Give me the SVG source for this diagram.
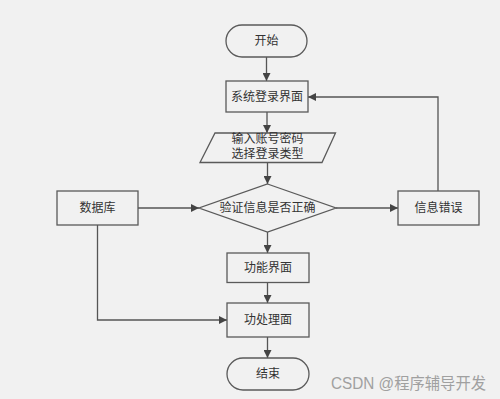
<svg xmlns="http://www.w3.org/2000/svg" width="500" height="399" viewBox="0 0 500 399">
<style>
.shape{fill:#f1f1f1;stroke:#5a5a5a;stroke-width:1.3}
.lbl{font-family:"Liberation Serif","Noto Sans CJK SC",serif;font-size:12px;fill:#333;text-anchor:middle;dominant-baseline:central}
.conn{fill:none;stroke:#555;stroke-width:1.3}
.wm{font-family:"Liberation Sans","Noto Sans CJK SC",sans-serif;font-size:16px;fill:#a0a0a0}
</style>
<defs>
<marker id="arr" viewBox="0 0 10 10" refX="10" refY="5" markerWidth="8" markerHeight="8" markerUnits="userSpaceOnUse" orient="auto">
<path d="M0,0 L10,5 L0,10 Z" fill="#444"/>
</marker>
</defs>
<rect width="500" height="399" fill="#f1f1f1"/>
<g id="connectors">
<path class="conn" d="M266.5,57 V81" marker-end="url(#arr)"/>
<path class="conn" d="M267,112 V133" marker-end="url(#arr)"/>
<path class="conn" d="M267.5,162.5 V184" marker-end="url(#arr)"/>
<path class="conn" d="M138,208 H199" marker-end="url(#arr)"/>
<path class="conn" d="M336,208 H398" marker-end="url(#arr)"/>
<path class="conn" d="M438,191 V97 H308" marker-end="url(#arr)"/>
<path class="conn" d="M267.5,232 V253" marker-end="url(#arr)"/>
<path class="conn" d="M267.5,282.5 V303" marker-end="url(#arr)"/>
<path class="conn" d="M97.5,225 V320 H227" marker-end="url(#arr)"/>
<path class="conn" d="M267.5,337 V358" marker-end="url(#arr)"/>
</g>
<g id="start">
<rect class="shape" x="226" y="25" width="81" height="32" rx="16" ry="16"/>
<text class="lbl" x="266.5" y="41">开始</text>
</g>
<g id="login">
<rect class="shape" x="226" y="81" width="82" height="31"/>
<text class="lbl" x="267" y="96.5">系统登录界面</text>
</g>
<g id="input">
<polygon class="shape" points="215,133 335.5,133 322,162.5 200,162.5"/>
<text class="lbl" x="267.5" y="139">输入账号密码</text>
<text class="lbl" x="267.5" y="154">选择登录类型</text>
</g>
<g id="verify">
<polygon class="shape" points="267.5,184 336,208 267.5,232 199,208"/>
<text class="lbl" x="267.5" y="208">验证信息是否正确</text>
</g>
<g id="database">
<rect class="shape" x="57" y="191" width="81" height="34"/>
<text class="lbl" x="97.5" y="208">数据库</text>
</g>
<g id="error">
<rect class="shape" x="398" y="191" width="81" height="34"/>
<text class="lbl" x="438.5" y="208">信息错误</text>
</g>
<g id="function">
<rect class="shape" x="227" y="253" width="82" height="29.5"/>
<text class="lbl" x="268" y="268">功能界面</text>
</g>
<g id="process">
<rect class="shape" x="227" y="303" width="82" height="34"/>
<text class="lbl" x="268" y="320">功处理面</text>
</g>
<g id="end">
<rect class="shape" x="227" y="358" width="82" height="32" rx="16" ry="16"/>
<text class="lbl" x="268" y="374">结束</text>
</g>
<text class="wm" x="331" y="389" textLength="155" lengthAdjust="spacingAndGlyphs">CSDN @程序辅导开发</text>
</svg>
